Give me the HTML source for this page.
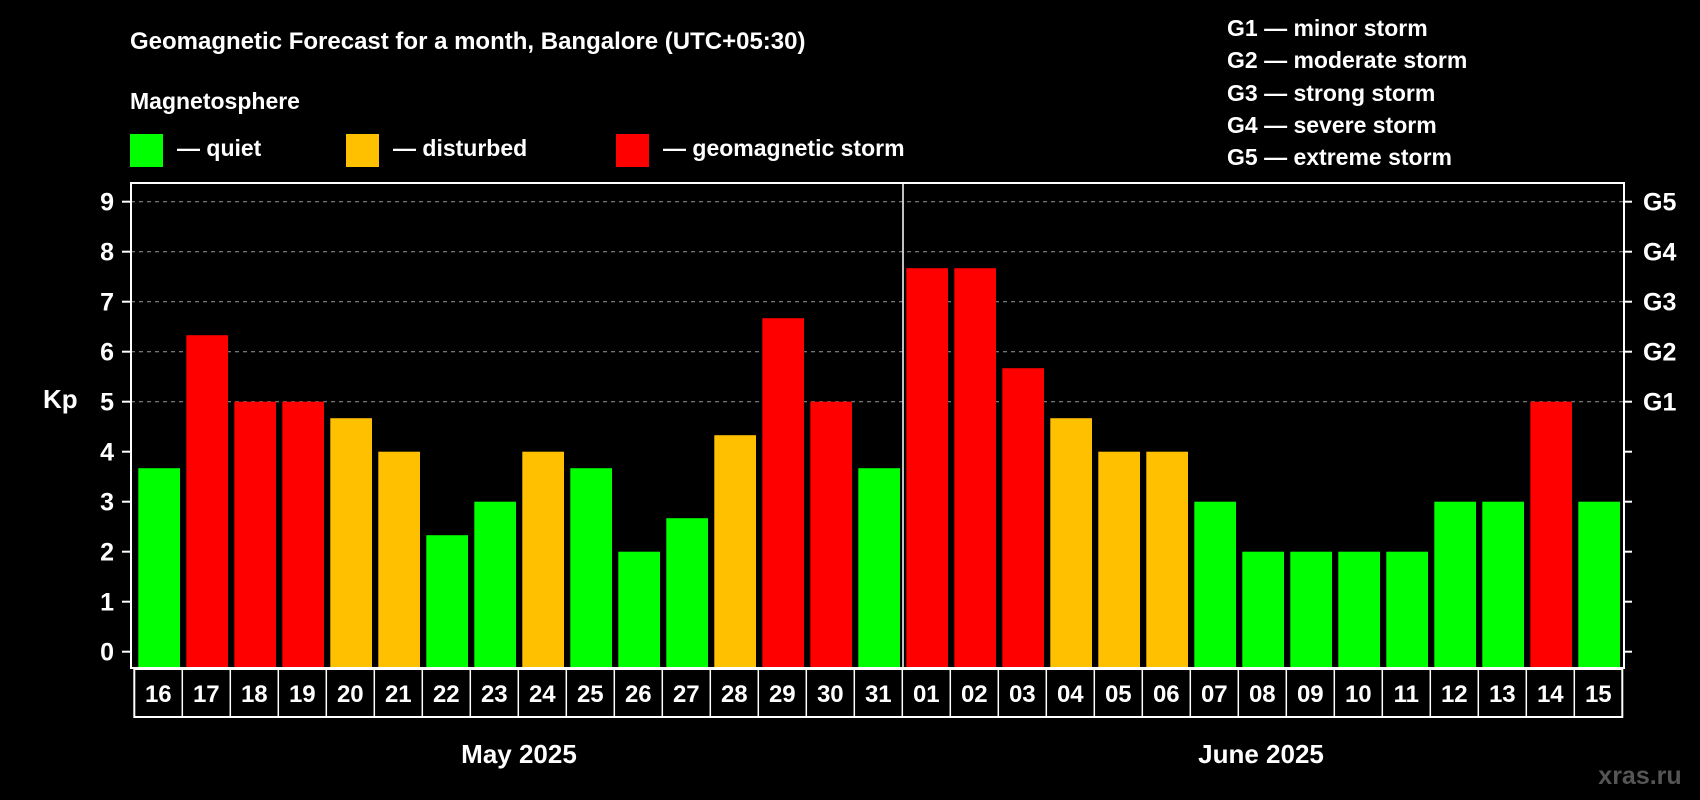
<!DOCTYPE html>
<html><head><meta charset="utf-8"><style>
html,body{margin:0;padding:0;background:#000;}
svg{display:block;font-family:"Liberation Sans",Arial,sans-serif;font-weight:bold;}
</style></head><body>
<svg id="chart" width="1700" height="800" viewBox="0 0 1700 800">
<rect width="1700" height="800" fill="#000"/>
<text x="130" y="49" fill="#fff" font-size="24">Geomagnetic Forecast for a month, Bangalore (UTC+05:30)</text>
<text x="130" y="109" fill="#fff" font-size="23">Magnetosphere</text>
<g><rect x="130" y="134" width="33" height="33" fill="#00ff00"/><text x="177" y="156" fill="#fff" font-size="23">— quiet</text></g>
<g><rect x="346" y="134" width="33" height="33" fill="#ffc000"/><text x="393" y="156" fill="#fff" font-size="23">— disturbed</text></g>
<g><rect x="616" y="134" width="33" height="33" fill="#ff0000"/><text x="663" y="156" fill="#fff" font-size="23">— geomagnetic storm</text></g>
<g fill="#fff" font-size="23">
<text x="1227" y="36">G1 — minor storm</text>
<text x="1227" y="68">G2 — moderate storm</text>
<text x="1227" y="101">G3 — strong storm</text>
<text x="1227" y="133">G4 — severe storm</text>
<text x="1227" y="165">G5 — extreme storm</text>
</g>
<text x="43" y="408" fill="#fff" font-size="26">Kp</text>
<g id="grid"></g>
<g id="bars"></g>
<rect x="131" y="183" width="1493" height="485" fill="none" stroke="#fff" stroke-width="2"/>
<line x1="903" y1="183" x2="903" y2="668" stroke="#fff" stroke-width="1.5"/>
<g id="axes"></g>
<text x="519" y="763" fill="#fff" font-size="26" text-anchor="middle">May 2025</text>
<text x="1261" y="763" fill="#fff" font-size="26" text-anchor="middle">June 2025</text>
<text x="1640" y="784" fill="#555" font-size="25" text-anchor="middle">xras.ru</text>
</svg>
<script>
const days = ["16","17","18","19","20","21","22","23","24","25","26","27","28","29","30","31","01","02","03","04","05","06","07","08","09","10","11","12","13","14","15"];
const kpValues = [3.67,6.33,5,5,4.67,4,2.33,3,4,3.67,2,2.67,4.33,6.67,5,3.67,7.67,7.67,5.67,4.67,4,4,3,2,2,2,2,3,3,5,3];
const yTicks = [0,1,2,3,4,5,6,7,8,9];
const gLabels = ["G1","G2","G3","G4","G5"];
const NS="http://www.w3.org/2000/svg";
const y0=651.7, yUnit=50, plotBottom=668, plotLeft=131, plotRight=1624;
const x0=138.3, step=48, bw=41.7;
function yScale(v){return y0 - v*yUnit;}
function xScale(i){return x0 + i*step;}
function mk(tag,attrs){const e=document.createElementNS(NS,tag);for(const k in attrs)e.setAttribute(k,attrs[k]);return e;}
const grid=document.getElementById('grid'), bars=document.getElementById('bars'), axes=document.getElementById('axes');
yTicks.forEach(v=>{
  const y=yScale(v);
  if(v>=5){
    const gl=mk('line',{x1:plotLeft,x2:plotRight,y1:y,y2:y,stroke:'#999','stroke-width':1,'stroke-dasharray':'4,4'});
    
    
    grid.appendChild(gl);
  }
  const t=mk('line',{x1:122,x2:plotLeft,y1:y,y2:y,stroke:'#fff','stroke-width':2});
  
  
  axes.appendChild(t);
  const rt=mk('line',{x1:plotRight,x2:plotRight+8,y1:y,y2:y,stroke:'#fff','stroke-width':2});
  
  
  axes.appendChild(rt);
  const lb=mk('text',{x:114,y:y+9,fill:'#fff','font-size':25,'text-anchor':'end'});
  lb.textContent=v;
  
  
  axes.appendChild(lb);
});
gLabels.forEach((g,i)=>{
  const lb=mk('text',{x:1643,y:yScale(5+i)+9,fill:'#fff','font-size':25});
  lb.textContent=g;
  
  
  axes.appendChild(lb);
});
kpValues.forEach((v,i)=>{
  const c = v>=5 ? '#ff0000' : (v>=4 ? '#ffc000' : '#00ff00');
  const y=yScale(v);
  const r=mk('rect',{x:xScale(i),y:y,width:bw,height:plotBottom-y,fill:c});
  
  
  bars.appendChild(r);
});
const bx0=134.3;
const box=mk('rect',{x:bx0,y:669,width:step*days.length,height:48,fill:'none',stroke:'#fff','stroke-width':2});


axes.appendChild(box);
days.forEach((d,i)=>{
  if(i>0){
    const l=mk('line',{x1:bx0+i*step,x2:bx0+i*step,y1:669,y2:717,stroke:'#fff','stroke-width':1.5});
    
    
    axes.appendChild(l);
  }
  const t=mk('text',{x:bx0+i*step+step/2,y:702,fill:'#fff','font-size':24,'text-anchor':'middle'});
  t.textContent=d;
  
  
  axes.appendChild(t);
});
</script>
</body></html>
